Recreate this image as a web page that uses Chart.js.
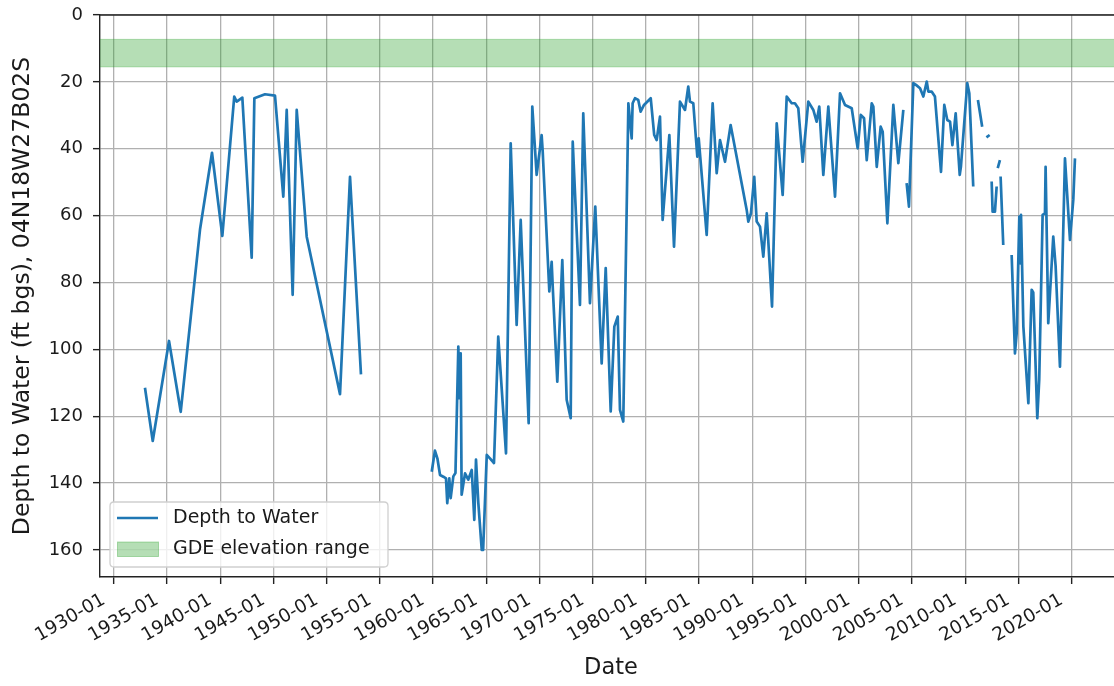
<!DOCTYPE html>
<html><head><meta charset="utf-8">
<script src="https://cdn.jsdelivr.net/npm/chart.js@4.4.1/dist/chart.umd.min.js"></script>
<style>
html,body{margin:0;padding:0;background:#fff;overflow:hidden;width:1114px;height:686px}
#wrap{position:absolute;left:0;top:0;width:1122px;height:686px}
</style></head><body>
<div id="wrap"><canvas id="c" width="1122" height="686"></canvas></div>
<script>
// ---- data (decimal year, depth to water in ft bgs); null = gap in record ----
const dateYears = [
 1932.92,1933.65,1935.18,1936.28,1938.1,1939.22,1940.19,1941.31,1941.54,1942.07,1942.95,1943.2,1944.2,1945.14,1945.92,1946.24,1946.8,1947.18,1948.12,1951.25,1952.19,1953.22,
 1956.5,
 1959.87,1960.17,1960.4,1960.65,1960.96,1961.21,1961.33,1961.52,1961.65,1961.9,1962.1,1962.37,1962.46,1962.59,1962.68,1963.0,1963.3,1963.63,1963.87,1964.03,1964.25,1964.57,1964.7,1965.04,1965.34,1965.72,1966.12,1966.85,1967.29,1967.85,1968.23,1968.98,1969.32,1969.73,1970.2,1970.3,1970.92,1971.14,1971.24,1971.67,1972.14,1972.55,1972.93,1973.12,1973.8,1974.11,1974.74,1975.24,1975.84,1976.22,1976.69,1977.03,1977.35,1977.56,1977.87,
 1978.35,1978.66,1978.75,1978.97,1979.28,1979.5,1979.82,1980.45,1980.78,1981.01,1981.32,1981.57,1982.2,1982.64,1983.2,1983.67,1983.98,1984.14,1984.45,1984.83,1984.96,1985.71,1986.27,1986.65,1986.96,1987.43,1987.96,1989.47,1989.62,1989.87,1990.18,1990.41,1990.72,1991.03,1991.35,1991.85,1992.29,1992.85,1993.23,1993.7,1994.0,1994.32,1994.73,1995.26,1995.73,1996.04,1996.29,1996.67,1997.14,1997.77,1998.24,1998.71,1999.34,1999.9,2000.19,2000.5,2000.75,2001.22,2001.37,2001.69,2002.06,2002.25,2002.69,2003.25,2003.72,2004.19,
 2004.35,
 2004.5,2004.72,2005.13,2005.38,2005.76,2006.07,2006.39,2006.54,2006.85,2007.16,2007.73,2008.04,2008.32,2008.58,2008.8,2009.11,2009.49,2009.6,2010.2,2010.39,2010.76,
 2010.97,
 2011.2,2011.4,2011.6,
 2011.8,
 2012.0,2012.3,
 2012.4,
 2012.49,2012.58,2012.8,2012.96,
 2013.01,
 2013.06,2013.27,
 2013.3,
 2013.33,2013.58,
 2014.0,
 2014.37,2014.68,2014.84,2015.09,2015.21,2015.25,2015.47,2015.94,2016.25,2016.4,2016.78,2016.96,2017.28,2017.5,2017.56,2017.81,2018.28,2018.5,2018.91,2019.38,2019.85,2020.16,2020.32
];
const depthFt = [
 111.5,127.4,97.5,118.7,64,41.2,66.1,24.4,25.9,24.7,72.6,24.9,23.7,24.1,54.3,28.4,83.7,28.4,66.3,113.4,48.4,107.5,
 null,
 136.6,130.3,132.6,137.6,138.1,138.6,146,138.6,144.5,138,137,99.2,114.6,101.2,143.5,137.1,139,136.1,151,133,146,160,160,131.6,132.6,134,96.2,131.1,38.4,92.7,61.3,122.1,27.4,47.8,35.9,40.9,82.7,73.8,81.2,109.7,73.3,115.1,120.6,37.9,86.7,29.4,86.2,57.3,104.2,75.7,118.6,93.2,90.2,118.1,121.6,
 26.4,36.9,26.4,24.9,25.4,28.9,26.9,24.9,35.9,37.4,30.4,61.3,35.9,69.3,25.9,28.4,21.4,25.9,26.4,42.4,36.9,65.8,26.4,47.3,37.4,43.9,32.9,58.3,61.8,59.3,48.4,61.8,63.3,72.3,59.3,87.2,32.4,53.8,24.4,26.4,26.4,27.9,43.9,25.9,28.4,31.9,27.4,47.8,27.4,54.3,23.4,26.9,27.9,39.9,29.9,30.9,43.4,26.4,27.4,45.4,33.4,34.9,62.3,26.9,44.3,28.4,
 null,
 50.3,57.3,20.4,20.9,21.9,24.4,19.9,22.9,22.9,24.4,46.9,26.9,31.4,31.9,38.9,29.4,47.8,45.4,20.4,23.4,51.3,
 null,
 25.4,29.4,33.4,
 null,
 36.6,35.9,
 null,
 49.8,58.8,58.8,51.3,
 null,
 45.8,43.4,
 null,
 48.3,68.8,
 null,
 71.8,101.2,95.2,60.3,74.3,59.8,93.2,116.1,82.2,83,120.6,109.1,59.8,59.3,45.4,92.2,66.3,75,105.2,42.9,67.3,55.3,42.9
];
const gdeRange = [7.3, 15.5];           // GDE elevation range (ft bgs)
const xTickYears = [1930,1935,1940,1945,1950,1955,1960,1965,1970,1975,1980,1985,1990,1995,2000,2005,2010,2015,2020];
const xTickLabels = xTickYears.map(y => y + '-01');
const yTickValues = [0,20,40,60,80,100,120,140,160];
const xLimits = [1928.694, 2024.74];
const yLimits = [0, 168.1];

const seriesPoints = dateYears.map((x, i) => ({x: x, y: depthFt[i]}));
const bandTop = xLimits.map(x => ({x: x, y: gdeRange[0]}));
const bandBottom = xLimits.map(x => ({x: x, y: gdeRange[1]}));

const BLUE = '#1f77b4';
const GREEN_A = 'rgba(44,160,44,0.35)';
const FONT = 'DejaVu Sans';
const TXT = '#1a1a1a';

const framePlugin = {
  id: 'frame',
  afterDraw(chart) {
    const {ctx, chartArea: a} = chart;
    ctx.save();
    ctx.strokeStyle = '#222';
    ctx.lineWidth = 1.4;
    ctx.beginPath();
    ctx.moveTo(a.left, a.top);
    ctx.lineTo(a.right, a.top);
    ctx.stroke();
    ctx.restore();
  }
};

const legendPlugin = {
  id: 'mplLegend',
  afterDraw(chart) {
    const {ctx} = chart;
    const x0 = 110, y0 = 502, w = 278, h = 65, r = 4;
    ctx.save();
    ctx.beginPath();
    ctx.moveTo(x0 + r, y0);
    ctx.lineTo(x0 + w - r, y0); ctx.quadraticCurveTo(x0 + w, y0, x0 + w, y0 + r);
    ctx.lineTo(x0 + w, y0 + h - r); ctx.quadraticCurveTo(x0 + w, y0 + h, x0 + w - r, y0 + h);
    ctx.lineTo(x0 + r, y0 + h); ctx.quadraticCurveTo(x0, y0 + h, x0, y0 + h - r);
    ctx.lineTo(x0, y0 + r); ctx.quadraticCurveTo(x0, y0, x0 + r, y0);
    ctx.closePath();
    ctx.fillStyle = 'rgba(255,255,255,0.8)';
    ctx.fill();
    ctx.strokeStyle = '#d0d0d0';
    ctx.lineWidth = 1.3;
    ctx.stroke();
    ctx.strokeStyle = BLUE; ctx.lineWidth = 2.7; ctx.lineCap = 'butt';
    ctx.beginPath(); ctx.moveTo(117, 518); ctx.lineTo(158, 518); ctx.stroke();
    ctx.fillStyle = GREEN_A; ctx.fillRect(117.5, 542, 41, 14.5);
    ctx.strokeStyle = GREEN_A; ctx.lineWidth = 1; ctx.strokeRect(117.5, 542, 41, 14.5);
    ctx.fillStyle = TXT;
    ctx.font = '19px "' + FONT + '"';
    ctx.textBaseline = 'middle';
    ctx.textAlign = 'left';
    ctx.fillText(chart.data.datasets[0].label, 173, 518);
    ctx.fillText(chart.data.datasets[1].label, 173, 549);
    ctx.restore();
  }
};

new Chart(document.getElementById('c'), {
  type: 'line',
  data: {
    datasets: [
      { label: 'Depth to Water', data: seriesPoints, borderColor: BLUE, borderWidth: 2.7,
        pointRadius: 0, tension: 0, spanGaps: false, fill: false,
        borderJoinStyle: 'round', borderCapStyle: 'butt' },
      { label: 'GDE elevation range', data: bandTop, borderColor: GREEN_A, borderWidth: 1,
        backgroundColor: GREEN_A, pointRadius: 0, fill: '+1' },
      { label: 'GDE bottom', data: bandBottom, borderColor: GREEN_A, borderWidth: 1,
        pointRadius: 0, fill: false }
    ]
  },
  options: {
    responsive: false,
    animation: false,
    devicePixelRatio: 1,
    layout: { padding: { top: 15, right: 0, left: 0, bottom: 0 } },
    plugins: { legend: { display: false }, tooltip: { enabled: false } },
    scales: {
      x: {
        type: 'linear', min: xLimits[0], max: xLimits[1],
        afterBuildTicks: s => { s.ticks = xTickYears.map(v => ({value: v})); },
        afterFit: s => { s.height = 109; s.paddingLeft = 0; s.paddingRight = 0; },
        ticks: { autoSkip: false, minRotation: 30, maxRotation: 30, padding: 5, labelOffset: -10,
          color: TXT, font: { family: FONT, size: 18.5 },
          callback: (v) => xTickLabels[xTickYears.indexOf(v)] },
        grid: { color: '#b0b0b0', lineWidth: 1.3, drawTicks: true, tickLength: 7, tickColor: '#222', tickWidth: 1.4 },
        border: { display: true, color: '#222', width: 1.4 },
        title: { display: true, text: 'Date', color: TXT, font: { family: FONT, size: 22.5 }, padding: { top: 0, bottom: 4.5 } }
      },
      y: {
        type: 'linear', reverse: true, min: yLimits[0], max: yLimits[1],
        afterBuildTicks: s => { s.ticks = yTickValues.map(v => ({value: v})); },
        afterFit: s => { s.width = 100; s.paddingTop = 0; s.paddingBottom = 0; },
        ticks: { padding: 10, color: TXT, font: { family: FONT, size: 18 } },
        grid: { color: '#b0b0b0', lineWidth: 1.3, drawTicks: true, tickLength: 7, tickColor: '#222', tickWidth: 1.4 },
        border: { display: true, color: '#222', width: 1.4 },
        title: { display: true, text: 'Depth to Water (ft bgs), 04N18W27B02S', color: TXT, font: { family: FONT, size: 23.5 }, padding: { top: 9, bottom: 0 } }
      }
    }
  },
  plugins: [framePlugin, legendPlugin]
});
</script>
</body></html>
